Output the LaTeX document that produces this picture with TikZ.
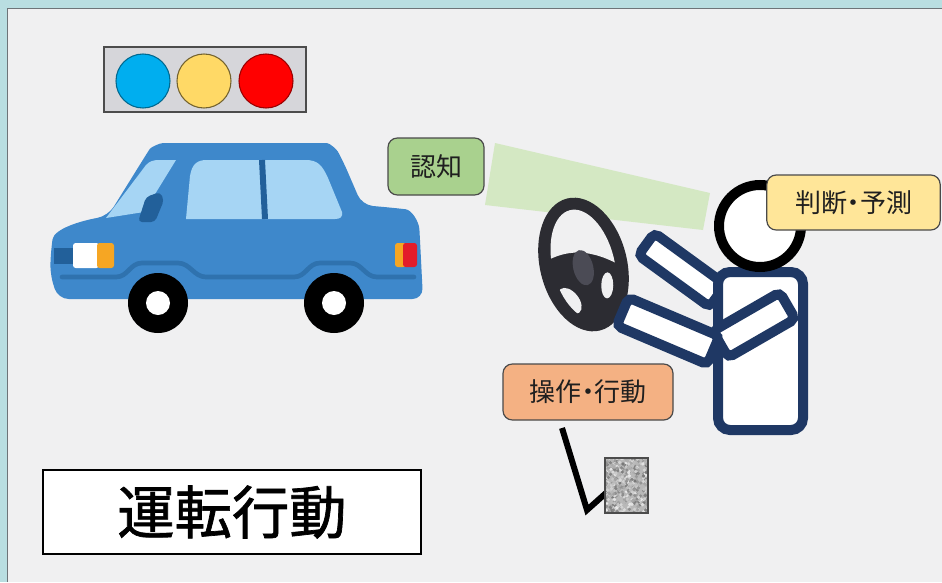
\documentclass[tikz,border=0pt]{standalone}
\usepackage{fontspec}
\newfontfamily\jpfont[RawFeature=+palt]{Noto Sans CJK JP}
\newfontfamily\jptitle[FakeBold=1.2]{Noto Sans CJK JP}
\definecolor{frameteal}{HTML}{B9DEE1}
\definecolor{framegray}{HTML}{6E7478}
\definecolor{panelbg}{HTML}{F0F0F1}
\definecolor{tlbox}{HTML}{D6D6DA}
\definecolor{tlblue}{HTML}{00AEEF}
\definecolor{tlyellow}{HTML}{FFD966}
\definecolor{tlred}{HTML}{FF0000}
\definecolor{carblue}{HTML}{3E88CB}
\definecolor{cardark}{HTML}{22609A}
\definecolor{carline}{HTML}{2F72AE}
\definecolor{carglass}{HTML}{A6D5F4}
\definecolor{lamporange}{HTML}{F6A623}
\definecolor{lampred}{HTML}{E31D2A}
\definecolor{beamgreen}{HTML}{D4E8C3}
\definecolor{wheeldark}{HTML}{2C2C32}
\definecolor{hubgray}{HTML}{4B4B55}
\definecolor{navy}{HTML}{1F3864}
\definecolor{greenlabel}{HTML}{A9D18E}
\definecolor{yellowlabel}{HTML}{FFE699}
\definecolor{orangelabel}{HTML}{F4B183}
\definecolor{labelline}{HTML}{4A4A4A}
\begin{document}
\begin{tikzpicture}[x=0.75pt,y=-0.75pt,
  tag/.style={draw=labelline, line width=0.9pt, rounded corners=7pt,
    font=\jpfont\fontsize{19.5}{22}\selectfont, text=black!88, inner sep=0pt},
  armbox/.style={draw=navy, line width=7.5pt, fill=white, rounded corners=4pt,
    inner sep=0pt},
  lamp/.style={circle, minimum size=40.5pt, inner sep=0pt, line width=0.8pt}]
\useasboundingbox (0,0) rectangle (942,582);

% window frame and panel
\fill[frameteal] (0,0) rectangle (942,582);
\fill[panelbg] (7,8) rectangle (942,582);
\draw[framegray, line width=1pt] (7.5,582) -- (7.5,8.5) -- (942,8.5);

% traffic light
\node[draw=black!70, fill=tlbox, line width=0.9pt, minimum width=151.5pt,
      minimum height=48.75pt, inner sep=0pt] (signal) at (205,79.5) {};
\node[lamp, fill=tlblue, draw=tlblue!60!black] (go) at (143,81) {};
\node[lamp, fill=tlyellow, draw=tlyellow!45!black] (caution) at (204,81) {};
\node[lamp, fill=tlred, draw=tlred!60!black] (stop) at (266,81) {};

% car body
\fill[carblue, rounded corners=8pt]
  (58,299) -- (50,274) -- (51,250)
  .. controls (54,229) and (80,221) .. (108,216)
  -- (144,158) .. controls (151,147) and (160,143) .. (174,143)
  -- (316,143) .. controls (330,143) and (337,150) .. (343,161)
  -- (362,205) -- (395,208)
  .. controls (412,210) and (419,222) .. (420,240)
  -- (423,299) -- cycle;
% windows
\fill[carglass] (106,218) -- (146,165) .. controls (150,161) and (153,160) .. (160,160)
  -- (176,160) -- (144,212) -- cycle;
\fill[carglass] (186,219) -- (190,176) .. controls (192,164) and (197,160) .. (207,160)
  -- (305,160) .. controls (318,160) and (322,165) .. (328,178)
  -- (342,212) .. controls (343,217) and (340,219) .. (335,219) -- cycle;
\draw[cardark, line width=4.5pt] (262,160) -- (265,219);
% mirror
\fill[cardark, rounded corners=3pt] (138,222) -- (146,197) -- (160,192) -- (164,200) -- (155,222) -- cycle;
% body crease
\draw[carline, line width=3.5pt, line cap=round]
  (62,277) -- (116,277) .. controls (128,277) and (130,263) .. (142,263)
  -- (178,263) .. controls (190,263) and (194,277) .. (206,277)
  -- (294,277) .. controls (306,277) and (308,263) .. (320,263)
  -- (350,263) .. controls (362,263) and (365,277) .. (377,277) -- (414,277);
% lamps
\fill[cardark] (54,248) rectangle (74,264);
\fill[white, rounded corners=2pt] (73,243) rectangle (99,268);
\fill[lamporange, rounded corners=2pt] (97,243) rectangle (114,268);
\fill[lamporange, rounded corners=2pt] (395,243) rectangle (406,267);
\fill[lampred, rounded corners=2pt] (403,243) rectangle (417,267);
% wheels
\foreach \wx/\nm in {158/front, 334/rear}{
  \node[circle, fill=black, minimum size=45pt, inner sep=0pt] (\nm tyre) at (\wx,303) {};
  \node[circle, fill=white, minimum size=18pt, inner sep=0pt] (\nm hub) at (\wx,303) {};
}

% field of view
\fill[beamgreen] (495,143) -- (710,193) -- (703,230) -- (485,205) -- cycle;

% steering wheel
\begin{scope}[shift={(583.5,264.5)}, rotate=14]
  \fill[wheeldark] (0,0) ellipse [x radius=43.5, y radius=68];
  \begin{scope}
    \clip (0,0) ellipse [x radius=31, y radius=56];
    \fill[panelbg] (-40,-11) .. controls (-15,-19) and (10,-16) .. (40,14)
      -- (40,-70) -- (-40,-70) -- cycle;
    \fill[panelbg, rotate around={25:(-22,32)}] (-22,32) ellipse [x radius=9, y radius=15];
    \fill[panelbg, rotate around={-15:(18,26)}] (18,26) ellipse [x radius=6, y radius=13];
  \end{scope}
  \fill[hubgray] (-1,3) ellipse [x radius=10, y radius=18];
\end{scope}

% driver
\node[armbox, minimum width=66pt, minimum height=20.5pt, rotate=-36] (upperarm) at (682,270) {};
\node[draw=navy, line width=7.5pt, fill=white, rounded corners=9pt,
      minimum width=63.75pt, minimum height=118.5pt, inner sep=0pt] (torso) at (760.5,351) {};
\node[circle, draw=black, line width=7.5pt, fill=white, minimum size=61.5pt,
      inner sep=0pt] (head) at (760,226) {};
\node[armbox, minimum width=58pt, minimum height=23pt, rotate=30] (shoulder) at (754,325) {};
\node[armbox, minimum width=74pt, minimum height=23pt, rotate=-23] (forearm) at (668,331) {};

% leg and pedal
\coordinate (knee) at (562,428);
\coordinate (heel) at (587,510);
\coordinate (toe) at (606,493);
\draw[black, line width=4.5pt, line join=miter] (knee) -- (heel) -- (toe);
\begin{scope}
  \clip (605,458) rectangle (648,513);
  \fill[black!28] (605,458) rectangle (648,513);
  \pgfmathsetseed{11}
  \foreach \i in {1,...,420}{
    \pgfmathsetmacro\px{605+43*rnd}
    \pgfmathsetmacro\py{458+55*rnd}
    \pgfmathsetmacro\sh{8+45*rnd}
    \fill[black!\sh] (\px,\py) circle (1.8);
  }
\end{scope}
\node[draw=black!70, line width=0.8pt, minimum width=32.25pt, minimum height=41.25pt,
      inner sep=0pt] (pedal) at (626.5,485.5) {};

% stage labels
\node[tag, fill=greenlabel, minimum width=72pt, minimum height=42.75pt] (ninchi) at (436,166.5) {認知};
\node[tag, fill=yellowlabel, minimum width=130pt, minimum height=41.25pt] (handan) at (853.5,202.5) {判断・予測};
\node[tag, fill=orangelabel, minimum width=127.5pt, minimum height=42pt] (sousa) at (588,392) {操作・行動};

% title box
\node[draw=black, line width=1pt, fill=white, minimum width=283.5pt, minimum height=63pt,
      inner sep=0pt, font=\jptitle\fontsize{43}{46}\selectfont] (title) at (232,512) {運転行動};
\end{tikzpicture}
\end{document}
